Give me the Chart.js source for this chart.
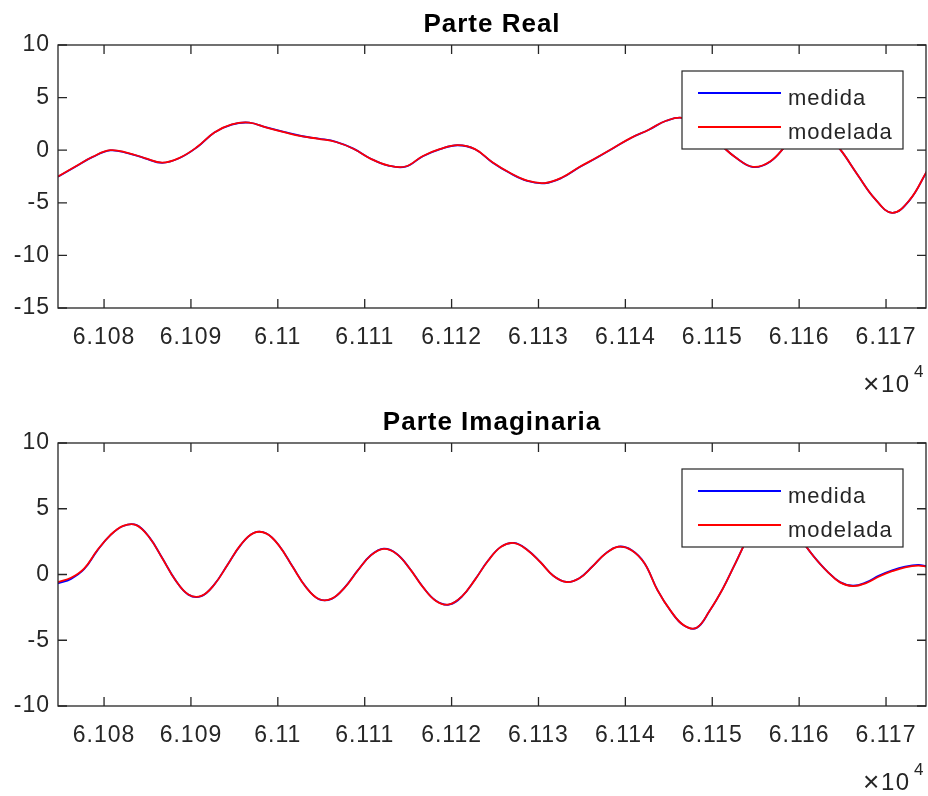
<!DOCTYPE html>
<html>
<head>
<meta charset="utf-8">
<script src="https://cdn.jsdelivr.net/npm/chart.js@4.4.0/dist/chart.umd.min.js"></script>
<style>
html, body { margin: 0; padding: 0; background: #fff; }
.box { position: absolute; left: 0; width: 928px; height: 398px; }
</style>
</head>
<body>
<div class="box" style="top:0"><canvas id="real"></canvas></div>
<div class="box" style="top:398px"><canvas id="imag"></canvas></div>
<script>
// values (x in raw units, axis shows x/1e4)
const xTicks = [61080, 61090, 61100, 61110, 61120, 61130, 61140, 61150, 61160, 61170];
const realYTicks = [-15, -10, -5, 0, 5, 10];
const imagYTicks = [-10, -5, 0, 5, 10];
const seriesNames = ["medida", "modelada"];

const realX = [61074.7, 61076.7, 61078.7, 61080.7, 61082.7, 61084.7, 61086.7, 61088.7, 61090.7, 61092.7,
  61094.7, 61096.7, 61098.7, 61100.7, 61102.7, 61104.7, 61106.7, 61108.7, 61110.7, 61112.7,
  61114.7, 61116.7, 61118.7, 61120.7, 61122.7, 61124.7, 61126.7, 61128.7, 61130.7, 61132.7,
  61134.7, 61136.7, 61138.7, 61140.7, 61142.7, 61144.7, 61146.7, 61148.7, 61150.7, 61152.7,
  61154.7, 61156.7, 61158.7, 61160.7, 61162.7, 61164.7, 61166.7, 61168.7, 61170.7, 61172.7,
  61174.7];
const realMedida = [-2.53, -1.57, -0.64, -0.02, -0.27, -0.77, -1.2, -0.74, 0.28, 1.68,
  2.44, 2.62, 2.16, 1.74, 1.35, 1.1, 0.8, 0.15, -0.81, -1.46,
  -1.57, -0.57, 0.1, 0.47, 0.09, -1.16, -2.17, -2.92, -3.14, -2.62,
  -1.62, -0.72, 0.24, 1.19, 1.94, 2.8, 3.05, 2.0, 0.7, -0.7,
  -1.6, -1.07, 0.62, 2.08, 1.87, 0.1, -2.3, -4.6, -5.96, -4.77,
  -2.02];
const realModelada = [-2.5, -1.55, -0.62, 0.0, -0.25, -0.75, -1.18, -0.72, 0.3, 1.69,
  2.45, 2.62, 2.15, 1.72, 1.33, 1.08, 0.78, 0.14, -0.82, -1.45,
  -1.55, -0.55, 0.12, 0.48, 0.1, -1.15, -2.15, -2.9, -3.12, -2.6,
  -1.6, -0.7, 0.25, 1.2, 1.95, 2.8, 3.05, 2.0, 0.7, -0.7,
  -1.58, -1.05, 0.63, 2.08, 1.87, 0.1, -2.3, -4.6, -5.95, -4.75,
  -2.0];

const imagX = [61074.7, 61076.2, 61077.7, 61079.2, 61080.7, 61082.2, 61083.7, 61085.2, 61086.7, 61088.2,
  61089.7, 61091.2, 61092.7, 61094.2, 61095.7, 61097.2, 61098.7, 61100.2, 61101.7, 61103.2,
  61104.7, 61106.2, 61107.7, 61109.2, 61110.7, 61112.2, 61113.7, 61115.2, 61116.7, 61118.2,
  61119.7, 61121.2, 61122.7, 61124.2, 61125.7, 61127.2, 61128.7, 61130.2, 61131.7, 61133.2,
  61134.7, 61136.2, 61137.7, 61139.2, 61140.7, 61142.2, 61143.7, 61145.2, 61146.7, 61148.2,
  61149.7, 61151.2, 61152.7, 61154.2, 61155.7, 61157.2, 61158.7, 61160.2, 61161.7, 61163.2,
  61164.7, 61166.2, 61167.7, 61169.2, 61170.7, 61172.2, 61173.7, 61174.7];
const imagMedida = [-0.68, -0.33, 0.4, 1.8, 2.97, 3.69, 3.77, 2.84, 1.25, -0.41,
  -1.53, -1.64, -0.75, 0.73, 2.22, 3.16, 3.12, 2.15, 0.6, -0.92,
  -1.87, -1.85, -0.98, 0.31, 1.46, 1.96, 1.56, 0.44, -0.95, -2.0,
  -2.29, -1.67, -0.38, 1.06, 2.12, 2.4, 1.88, 0.96, -0.09, -0.56,
  -0.28, 0.61, 1.59, 2.12, 1.86, 0.86, -1.19, -2.76, -3.86, -4.06,
  -2.76, -1.09, 0.91, 2.86, 4.0, 4.4, 3.9, 2.66, 1.36, 0.26,
  -0.58, -0.85, -0.6, -0.08, 0.32, 0.6, 0.73, 0.64];
const imagModelada = [-0.58, -0.25, 0.45, 1.82, 2.98, 3.7, 3.76, 2.83, 1.24, -0.42,
  -1.52, -1.63, -0.76, 0.72, 2.23, 3.15, 3.11, 2.14, 0.59, -0.93,
  -1.86, -1.84, -0.99, 0.3, 1.45, 1.95, 1.55, 0.43, -0.96, -2.01,
  -2.28, -1.66, -0.39, 1.05, 2.11, 2.39, 1.87, 0.95, -0.1, -0.57,
  -0.29, 0.6, 1.58, 2.11, 1.85, 0.85, -1.2, -2.75, -3.85, -4.05,
  -2.75, -1.1, 0.9, 2.85, 4.0, 4.4, 3.9, 2.65, 1.35, 0.25,
  -0.6, -0.88, -0.65, -0.15, 0.25, 0.55, 0.68, 0.6];

const FONT = "'Liberation Sans', Arial, sans-serif";
const INK = "#262626";

const matlabLook = {
  id: "matlabLook",
  beforeDraw(chart) {
    chart.ctx.letterSpacing = "1px";
  },
  afterDatasetsDraw(chart) {
    const ctx = chart.ctx;
    const { left, right, top, bottom } = chart.chartArea;
    const xs = chart.scales.x, ys = chart.scales.y;
    ctx.save();
    ctx.strokeStyle = INK;
    ctx.lineWidth = 1.3;
    ctx.strokeRect(left, top, right - left, bottom - top);
    ctx.beginPath();
    xs.ticks.forEach(t => {
      const px = xs.getPixelForValue(t.value);
      ctx.moveTo(px, bottom); ctx.lineTo(px, bottom - 9);
      ctx.moveTo(px, top); ctx.lineTo(px, top + 9);
    });
    ys.ticks.forEach(t => {
      const py = ys.getPixelForValue(t.value);
      ctx.moveTo(left, py); ctx.lineTo(left + 9, py);
      ctx.moveTo(right, py); ctx.lineTo(right - 9, py);
    });
    ctx.stroke();
    ctx.restore();
  },
  afterDraw(chart) {
    const ctx = chart.ctx;
    const { left, right, top } = chart.chartArea;
    const opts = chart.options.plugins.matlabLook;
    ctx.save();
    // title
    ctx.letterSpacing = "1px";
    ctx.fillStyle = "#000";
    ctx.font = "bold 26px " + FONT;
    ctx.textAlign = "center";
    ctx.textBaseline = "alphabetic";
    ctx.fillText(opts.title, (left + right) / 2, 32);

    // legend
    const lx = right - 244, ly = top + 26, lw = 221, lh = 78;
    ctx.fillStyle = "#fff";
    ctx.fillRect(lx, ly, lw, lh);
    ctx.strokeStyle = INK;
    ctx.lineWidth = 1.2;
    ctx.strokeRect(lx, ly, lw, lh);
    const colors = chart.data.datasets.map(d => d.borderColor);
    [0, 1].forEach(i => {
      const yy = ly + 22 + i * 34;
      ctx.strokeStyle = colors[i];
      ctx.lineWidth = 1.8;
      ctx.beginPath();
      ctx.moveTo(lx + 16, yy); ctx.lineTo(lx + 99, yy);
      ctx.stroke();
      ctx.fillStyle = INK;
      ctx.font = "22px " + FONT;
      ctx.textAlign = "left";
      ctx.fillText(chart.data.datasets[i].label, lx + 106, yy + 11.5);
    });

    // x10^4 exponent
    ctx.fillStyle = INK;
    ctx.textAlign = "left";
    ctx.letterSpacing = "0px";
    ctx.font = "28px " + FONT;
    ctx.fillText("\u00d7", 863, 393);
    ctx.letterSpacing = "1.5px";
    ctx.font = "24px " + FONT;
    ctx.fillText("10", 881, 392);
    ctx.letterSpacing = "0px";
    ctx.font = "17px " + FONT;
    ctx.fillText("4", 914, 377);
    ctx.restore();
  }
};

function makeChart(id, title, xs, medida, modelada, yMin, yMax, yTicks) {
  new Chart(document.getElementById(id), {
    type: "line",
    data: {
      datasets: [
        {
          label: seriesNames[0],
          data: xs.map((x, i) => ({ x: x, y: medida[i] })),
          borderColor: "#0000ff",
          borderWidth: 1.8,
          pointRadius: 0,
          tension: 0.4,
          order: 2
        },
        {
          label: seriesNames[1],
          data: xs.map((x, i) => ({ x: x, y: modelada[i] })),
          borderColor: "#ff0000",
          borderWidth: 1.8,
          pointRadius: 0,
          tension: 0.4,
          order: 1
        }
      ]
    },
    options: {
      responsive: true,
      maintainAspectRatio: false,
      animation: false,
      layout: { padding: { top: 45, right: 2, left: 0, bottom: 0 } },
      scales: {
        x: {
          type: "linear",
          min: 61074.7,
          max: 61174.6,
          afterBuildTicks: s => { s.ticks = xTicks.map(v => ({ value: v })); },
          afterFit: s => { s.height = 90; s.paddingLeft = 0; s.paddingRight = 0; },
          grid: { display: false, drawTicks: false },
          border: { display: false },
          ticks: {
            autoSkip: false,
            maxRotation: 0,
            padding: 16,
            color: INK,
            font: { family: FONT, size: 23 },
            callback: v => String(+(v / 1e4).toFixed(3))
          }
        },
        y: {
          min: yMin,
          max: yMax,
          afterBuildTicks: s => { s.ticks = yTicks.map(v => ({ value: v })); },
          afterFit: s => { s.width = 58; },
          grid: { display: false, drawTicks: false },
          border: { display: false },
          ticks: {
            padding: 8,
            color: INK,
            font: { family: FONT, size: 23 }
          }
        }
      },
      plugins: {
        legend: { display: false },
        tooltip: { enabled: false },
        title: { display: false },
        matlabLook: { title: title }
      }
    },
    plugins: [matlabLook]
  });
}

makeChart("real", "Parte Real", realX, realMedida, realModelada, -15, 10, realYTicks);
makeChart("imag", "Parte Imaginaria", imagX, imagMedida, imagModelada, -10, 10, imagYTicks);
</script>
</body>
</html>
